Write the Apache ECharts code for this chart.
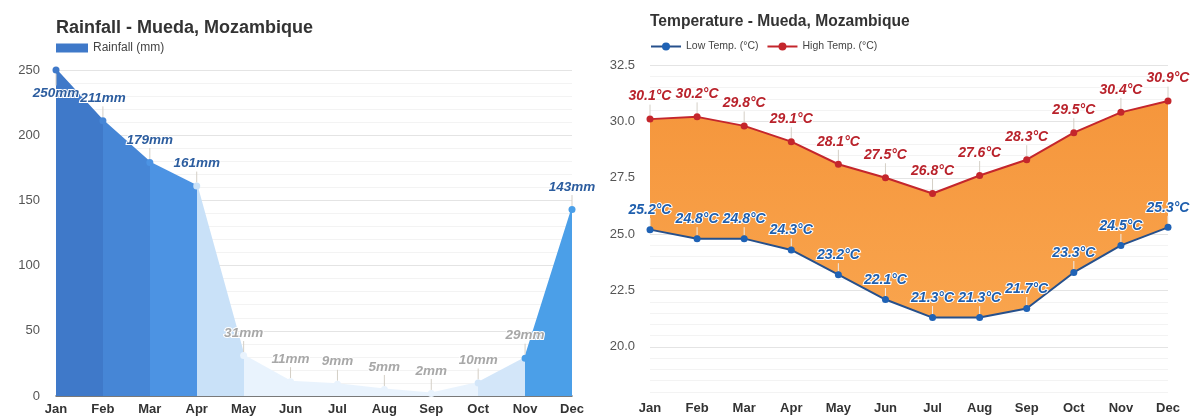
<!DOCTYPE html>
<html>
<head>
<meta charset="utf-8">
<script src="https://cdn.jsdelivr.net/npm/echarts@6/dist/echarts.min.js"></script>
<style>
  html, body { margin: 0; padding: 0; background: #fff; }
  #main { width: 1195px; height: 416px; }
</style>
</head>
<body>
<div id="main"></div>
<script>
// data
var months = ['Jan', 'Feb', 'Mar', 'Apr', 'May', 'Jun', 'Jul', 'Aug', 'Sep', 'Oct', 'Nov', 'Dec'];
var rainfall = [250, 211, 179, 161, 31, 11, 9, 5, 2, 10, 29, 143];
var lowTemp = [25.2, 24.8, 24.8, 24.3, 23.2, 22.1, 21.3, 21.3, 21.7, 23.3, 24.5, 25.3];
var highTemp = [30.1, 30.2, 29.8, 29.1, 28.1, 27.5, 26.8, 27.6, 28.3, 29.5, 30.4, 30.9];
var rainTicks = [0, 50, 100, 150, 200, 250];
var tempTicks = [20, 22.5, 25, 27.5, 30, 32.5];

// colour of each month's segment (month -> next month)
var segColors = ['#3f79c9', '#4686d6', '#4c93e3', '#c9e1f8', '#e9f3fd', '#e9f3fd',
                 '#e9f3fd', '#e9f3fd', '#e9f3fd', '#d3e6f9', '#4b9fe8', '#4b9fe8'];

var FONT = '"Liberation Sans", Arial, sans-serif';
var faint = '#f3f3f3';
var main = '#e4e4e4';

var chart = echarts.init(document.getElementById('main'));

var labelBase = {
    show: true,
    position: 'top',
    distance: 4,
    fontFamily: FONT,
    fontSize: 14,
    fontWeight: 'bold',
    fontStyle: 'italic',
    textBorderColor: '#fff',
    textBorderWidth: 2
};

var option = {
    animation: false,
    textStyle: { fontFamily: FONT },
    title: [
        { text: 'Rainfall - Mueda, Mozambique', left: 51, top: 14,
          textStyle: { fontFamily: FONT, fontSize: 18, fontWeight: 'bold', color: '#333' } },
        { text: 'Temperature - Mueda, Mozambique', left: 645, top: 9,
          textStyle: { fontFamily: FONT, fontSize: 15.6, fontWeight: 'bold', color: '#333' } }
    ],
    legend: [
        { data: [{ name: 'Rainfall (mm)', icon: 'rect' }], left: 51, top: 37, itemWidth: 32, itemHeight: 9, itemGap: 10,
          textStyle: { fontFamily: FONT, fontSize: 12, color: '#444' } },
        { data: ['Low Temp. (°C)', 'High Temp. (°C)'], left: 645, top: 36, itemWidth: 30, itemHeight: 10, itemGap: 8,
          textStyle: { fontFamily: FONT, fontSize: 10.5, color: '#444' } }
    ],
    grid: [
        { left: 56, top: 70, width: 516, height: 326 },
        { left: 650, top: 65, width: 518, height: 327 }
    ],
    xAxis: [
        { type: 'category', gridIndex: 0, data: months, boundaryGap: false,
          axisLine: { show: true, lineStyle: { color: '#555', width: 1.5 } },
          axisTick: { show: false },
          axisLabel: { margin: 7, fontFamily: FONT, fontSize: 13, fontWeight: 'bold', color: '#333' },
          splitLine: { show: false } },
        { type: 'category', gridIndex: 1, data: months, boundaryGap: false,
          axisLine: { show: false },
          axisTick: { show: false },
          axisLabel: { margin: 10, fontFamily: FONT, fontSize: 13, fontWeight: 'bold', color: '#333' },
          splitLine: { show: false } }
    ],
    yAxis: [
        { type: 'value', gridIndex: 0, min: 0, max: 250, interval: 10,
          axisLine: { show: false }, axisTick: { show: false },
          axisLabel: { margin: 16, fontFamily: FONT, fontSize: 13, color: '#555',
              formatter: function (v) { return rainTicks.indexOf(v) >= 0 ? String(v) : ''; } },
          splitLine: { lineStyle: { color: [main, faint, faint, faint, faint], width: 1 } } },
        { type: 'value', gridIndex: 1, min: 18, max: 32.5, interval: 0.5,
          axisLine: { show: false }, axisTick: { show: false },
          axisLabel: { margin: 15, fontFamily: FONT, fontSize: 13, color: '#555',
              formatter: function (v) { return tempTicks.indexOf(v) >= 0 ? v.toFixed(1) : ''; } },
          splitLine: { lineStyle: { color: [faint, faint, faint, faint, main], width: 1 } } }
    ],
    visualMap: [{
        type: 'piecewise',
        show: false,
        seriesIndex: 0,
        dimension: 0,
        pieces: segColors.map(function (c, i) { return { gte: i, lt: i + 1, color: c }; })
    }],
    series: [
        {
            name: 'Rainfall (mm)',
            type: 'line',
            xAxisIndex: 0, yAxisIndex: 0,
            color: '#3f79c9',
            symbol: 'circle', symbolSize: 7,
            lineStyle: { width: 2 },
            areaStyle: { opacity: 1 },
            data: rainfall.map(function (v, i) {
                return {
                    value: v,
                    label: {
                        color: v >= 100 ? '#2c5d9f' : '#a8a8a8',
                        position: i === 0 ? 'bottom' : 'top'
                    }
                };
            }),
            label: Object.assign({}, labelBase, { fontSize: 13.5, formatter: '{c}mm' }),
            labelLayout: function (p) { return { dy: p.dataIndex === 0 ? 9 : -8 }; },
            labelLine: { show: true, lineStyle: { color: '#d4cfc6', width: 1 } }
        },
        {
            name: 'Low Temp. (°C)',
            type: 'line',
            xAxisIndex: 1, yAxisIndex: 1,
            stack: 'temp',
            color: '#1f62b5',
            symbol: 'circle', symbolSize: 7,
            lineStyle: { color: '#26508c', width: 2 },
            data: lowTemp,
            label: Object.assign({}, labelBase, {
                color: '#1f5fae',
                formatter: function (p) { return lowTemp[p.dataIndex].toFixed(1) + '°C'; }
            }),
            labelLayout: { dy: -5 },
            labelLine: { show: true, lineStyle: { color: '#ececec', width: 1 } },
            z: 3
        },
        {
            name: 'High Temp. (°C)',
            type: 'line',
            xAxisIndex: 1, yAxisIndex: 1,
            stack: 'temp',
            color: '#c4262c',
            symbol: 'circle', symbolSize: 7,
            lineStyle: { color: '#c4262c', width: 2 },
            areaStyle: {
                opacity: 1,
                color: new echarts.graphic.LinearGradient(0, 0, 0, 1, [
                    { offset: 0, color: '#f5963c' },
                    { offset: 1, color: '#f9a44d' }
                ])
            },
            data: highTemp.map(function (h, i) { return +(h - lowTemp[i]).toFixed(1); }),
            label: Object.assign({}, labelBase, {
                color: '#b9222b',
                formatter: function (p) { return highTemp[p.dataIndex].toFixed(1) + '°C'; }
            }),
            labelLayout: { dy: -8 },
            labelLine: { show: true, lineStyle: { color: '#d4cfc6', width: 1 } },
            z: 2
        }
    ]
};

chart.setOption(option);
</script>
</body>
</html>
